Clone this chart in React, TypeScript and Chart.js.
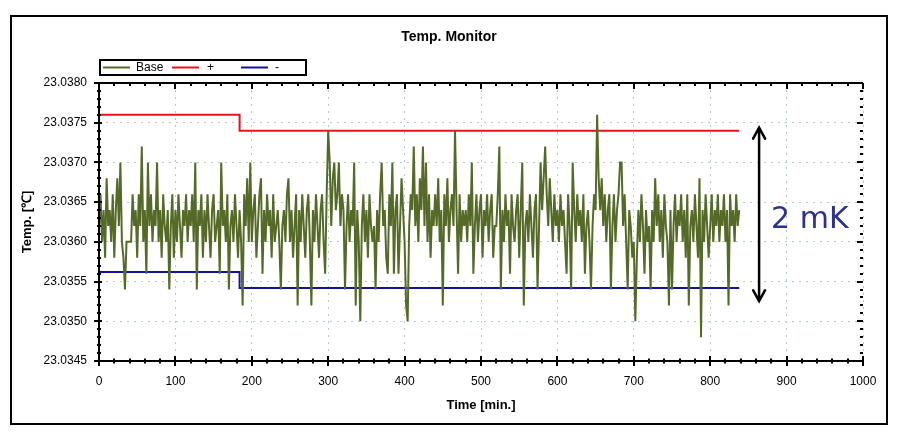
import React, { useEffect, useRef } from 'react';
import { Chart, registerables } from 'chart.js';

Chart.register(...registerables);

// ---- Text ----
const chartTitle = 'Temp. Monitor';
const xTitle = 'Time [min.]';
const yTitle = 'Temp. [℃]';

// ---- Axes ----
const xTickValues = [0, 100, 200, 300, 400, 500, 600, 700, 800, 900, 1000];
const yTickValues = [23.0345, 23.035, 23.0355, 23.036, 23.0365, 23.037, 23.0375, 23.038];
const xMinorStep = 20;
const yMinorStep = 0.0001;

// ---- Base series: one reading every 2 min, read as steps of 0.0002 °C about 23.0360 °C ----
const sampleIntervalMin = 2;
const baseOrigin = 23.036;
const baseStep = 0.0002;
const baseSteps = [
  1, 3, 0, 2, -1, 4, 1, 2, 0, 3, -1, 2, 4, 1, 5, 0, -1, -3, 0, 0,
  0, 0, 3, 1, 2, -1, 3, 1, 6, 0, 2, -2, 5, 1, 3, 0, 2, 1, 5, 0,
  2, -1, 3, 1, 0, 2, -3, 1, 3, -1, 2, 0, 3, 1, -1, 2, 1, 3, 0, 2,
  1, 3, 0, 5, -3, 2, 1, 3, -1, 2, 0, 3, 1, -1, 2, 3, 0, 1, 2, -2,
  5, 1, 2, 0, 3, -3, 1, 2, 0, 3, 1, -1, 2, 0, -4, 3, 1, 4, 0, 5,
  0, 2, 3, -1, 1, 3, 4, -2, 2, 0, 3, 1, 2, -1, 3, 0, 1, 2, 0, -3,
  1, 2, 0, 3, 4, 0, 2, -1, 1, 3, -4, 2, 0, 3, 1, -1, 2, 3, 0, -4,
  2, 0, 3, 1, -1, 2, 3, 0, -2, 3, 7, 5, 1, 4, 5, 2, 3, 5, 1, 3,
  2, -3, 1, 3, 0, 2, 1, 5, -4, 2, 0, -5, 1, 3, 0, 2, -1, 3, 1, 0,
  1, -3, 2, 0, 3, 5, 1, 2, -1, -2, 3, 1, 5, -2, 2, 3, -2, 1, 4, 2,
  0, -4, -5, 1, 3, 2, 6, 1, 3, 0, 4, 2, 6, 1, 5, 0, 3, -1, 2, 1,
  3, 1, 4, 0, 2, -4, 3, 1, 4, 0, 2, 3, 1, 7, 2, -2, 3, 0, 2, 1,
  2, 0, 3, 1, 5, -2, 1, 3, 0, 2, 3, -1, 2, 1, 3, 0, 2, 3, -1, 1,
  1, 3, 6, -3, 2, 0, 3, 1, 2, -2, 3, 1, 0, 2, 3, -1, 2, 5, -4, 1,
  2, 0, 3, 1, -1, 2, 3, -3, 1, 5, 2, 4, 6, 3, 1, 4, 2, 0, 3, 1,
  2, 0, 3, 1, 2, 0, -2, 3, 1, -3, 5, 2, 0, 3, 1, 2, 0, 3, -2, 1,
  2, 0, -3, 1, 3, 2, 8, 4, 2, 4, 1, 3, 0, 2, 3, -3, 1, 3, 0, 2,
  3, 5, 5, 1, 3, 0, -3, 2, 1, -1, 0, -5, -1, 2, 0, 3, 1, -2, 2, 0,
  1, -3, 2, 0, 4, 1, 3, 0, 2, -1, 3, 1, 0, -4, 2, -3, 1, 3, 0, 2,
  1, 3, 0, 2, -1, 3, -4, 1, 2, 0, 3, 1, -1, 4, -6, 2, 0, 3, 1, -1,
  1, 3, 0, 2, 1, 3, 0, 2, 1, 3, 0, 2, -4, 3, 1, 2, 0, 3, 1, 2,
];

// ---- Limit lines (step at ~184 min) ----
const limitTimes = [0, 184, 838];
const plusLimit = [23.0376, 23.0374, 23.0374];
const minusLimit = [23.03562, 23.03542, 23.03542];

// ---- Annotation ----
const spanLabel = '2 mK';
const spanTime = 864;
const spanTop = 23.03745;
const spanBottom = 23.03524;
const spanLabelValue = 23.03617;

const seriesNames = ['Base', '+', '-'];
const seriesColors = ['#566a28', '#e8141c', '#14149a'];

const FONT = "'Liberation Sans', Arial, sans-serif";

const framePlugin = {
  id: 'frame',
  afterDraw(chart: any) {
    const { ctx, chartArea: a, scales } = chart;
    const xs = scales.x;
    const ys = scales.y;
    ctx.save();
    ctx.strokeStyle = '#000';
    ctx.fillStyle = '#000';

    // outer border
    ctx.lineWidth = 2;
    ctx.strokeRect(11, 16, 876, 408);

    // axis lines (left, bottom, top)
    ctx.lineWidth = 2;
    ctx.beginPath();
    ctx.moveTo(a.left, a.top);
    ctx.lineTo(a.left, a.bottom);
    ctx.lineTo(a.right, a.bottom);
    ctx.moveTo(a.left, a.top);
    ctx.lineTo(a.right, a.top);
    ctx.stroke();

    // ticks
    ctx.lineWidth = 2;
    ctx.beginPath();
    const xMin = xTickValues[0];
    const xMax = xTickValues[xTickValues.length - 1];
    for (let v = xMin; v <= xMax + 1e-9; v += xMinorStep) {
      const px = Math.round(xs.getPixelForValue(v));
      const major = Math.abs(v / 100 - Math.round(v / 100)) < 1e-6;
      ctx.moveTo(px, a.bottom - (major ? 5 : 2.5));
      ctx.lineTo(px, a.bottom + (major ? 5 : 2.5));
      ctx.moveTo(px, a.top);
      ctx.lineTo(px, a.top + (major ? 6 : 3));
    }
    const yMin = yTickValues[0];
    const yMax = yTickValues[yTickValues.length - 1];
    const nMinor = Math.round((yMax - yMin) / yMinorStep);
    for (let i = 0; i <= nMinor; i++) {
      const v = yMin + i * yMinorStep;
      const py = Math.round(ys.getPixelForValue(v));
      const major = i % 5 === 0;
      ctx.moveTo(a.left - (major ? 5 : 2), py);
      ctx.lineTo(a.left + (major ? 3 : 2), py);
      ctx.moveTo(a.right - (major ? 6 : 3), py);
      ctx.lineTo(a.right, py);
    }
    ctx.stroke();

    // title
    ctx.font = `bold 14px ${FONT}`;
    ctx.textAlign = 'center';
    ctx.textBaseline = 'middle';
    ctx.fillText(chartTitle, 449, 37);

    // legend
    ctx.lineWidth = 2;
    ctx.strokeRect(100, 60, 206, 15);
    const items = [
      { x1: 103, x2: 130, tx: 136 },
      { x1: 172, x2: 199, tx: 207 },
      { x1: 241, x2: 268, tx: 275 },
    ];
    ctx.font = `12px ${FONT}`;
    ctx.textAlign = 'left';
    ctx.textBaseline = 'middle';
    items.forEach((it, i) => {
      ctx.strokeStyle = seriesColors[i];
      ctx.lineWidth = 2;
      ctx.beginPath();
      ctx.moveTo(it.x1, 67.5);
      ctx.lineTo(it.x2, 67.5);
      ctx.stroke();
      ctx.fillStyle = '#000';
      ctx.fillText(seriesNames[i], it.tx, 67.5);
    });

    // span arrow
    const ax = xs.getPixelForValue(spanTime);
    const ay1 = ys.getPixelForValue(spanTop);
    const ay2 = ys.getPixelForValue(spanBottom);
    ctx.strokeStyle = '#000';
    ctx.lineWidth = 2.5;
    ctx.lineCap = 'round';
    ctx.beginPath();
    ctx.moveTo(ax, ay1 + 1);
    ctx.lineTo(ax, ay2 - 1);
    ctx.moveTo(ax - 6, ay1 + 12);
    ctx.lineTo(ax, ay1 + 1);
    ctx.lineTo(ax + 6, ay1 + 12);
    ctx.moveTo(ax - 6, ay2 - 12);
    ctx.lineTo(ax, ay2 - 1);
    ctx.lineTo(ax + 6, ay2 - 12);
    ctx.stroke();

    ctx.fillStyle = '#2e3192';
    ctx.font = `30px 'DejaVu Sans', sans-serif`;
    ctx.textAlign = 'left';
    ctx.textBaseline = 'alphabetic';
    ctx.fillText(spanLabel, ax + 12, ys.getPixelForValue(spanLabelValue));

    ctx.restore();
  },
};

export default function App() {
  const canvasRef = useRef<HTMLCanvasElement | null>(null);

  useEffect(() => {
    const canvas = canvasRef.current;
    if (!canvas) return;
    const baseData = baseSteps.map((s, i) => ({
      x: i * sampleIntervalMin,
      y: baseOrigin + s * baseStep,
    }));
    const plusData = limitTimes.map((t, i) => ({ x: t, y: plusLimit[i] }));
    const minusData = limitTimes.map((t, i) => ({ x: t, y: minusLimit[i] }));

    const chart = new Chart(canvas, {
      type: 'line',
      data: {
        datasets: [
          {
            label: seriesNames[0],
            data: baseData,
            borderColor: seriesColors[0],
            borderWidth: 2,
            pointRadius: 0,
            tension: 0,
          },
          {
            label: seriesNames[1],
            data: plusData,
            borderColor: seriesColors[1],
            borderWidth: 2,
            pointRadius: 0,
            stepped: true,
          },
          {
            label: seriesNames[2],
            data: minusData,
            borderColor: seriesColors[2],
            borderWidth: 2,
            pointRadius: 0,
            stepped: true,
          },
        ],
      },
      options: {
        responsive: false,
        animation: false,
        devicePixelRatio: 1,
        events: [],
        layout: { padding: { left: 20, right: 38, top: 83, bottom: 20 } },
        plugins: {
          legend: { display: false },
          title: { display: false },
          tooltip: { enabled: false },
        },
        scales: {
          x: {
            type: 'linear',
            min: xTickValues[0],
            max: xTickValues[xTickValues.length - 1],
            afterBuildTicks: (s: any) => {
              s.ticks = xTickValues.map((v) => ({ value: v }));
            },
            afterFit: (s: any) => {
              s.height = 56;
            },
            ticks: {
              autoSkip: false,
              maxRotation: 0,
              padding: 13,
              color: '#000',
              font: { family: FONT, size: 12 },
              callback: (v: any) => String(v),
            },
            grid: {
              color: '#b4c8d4',
              lineWidth: 1,
              drawTicks: false,
            },
            border: { display: false, dash: [2, 5] },
            title: {
              display: true,
              text: xTitle,
              color: '#000',
              font: { family: FONT, size: 13, weight: 'bold' },
              padding: { top: 0, bottom: 4 },
            },
          },
          y: {
            type: 'linear',
            min: yTickValues[0],
            max: yTickValues[yTickValues.length - 1],
            afterBuildTicks: (s: any) => {
              s.ticks = yTickValues.map((v) => ({ value: v }));
            },
            afterFit: (s: any) => {
              s.width = 79;
            },
            ticks: {
              autoSkip: false,
              padding: 12,
              color: '#000',
              font: { family: FONT, size: 12 },
              callback: (v: any) => Number(v).toFixed(4),
            },
            grid: {
              color: '#b4c8d4',
              lineWidth: 1,
              drawTicks: false,
            },
            border: { display: false, dash: [2, 5] },
            title: {
              display: true,
              text: yTitle,
              color: '#000',
              font: { family: FONT, size: 13, weight: 'bold' },
              padding: { top: 0, bottom: 0 },
            },
          },
        },
      },
      plugins: [framePlugin],
    } as any);

    return () => chart.destroy();
  }, []);

  return (
    <div style={{ position: 'absolute', left: 0, top: 0, width: 901, height: 437, background: '#fff' }}>
      <canvas ref={canvasRef} width={901} height={437} style={{ display: 'block' }} />
    </div>
  );
}
